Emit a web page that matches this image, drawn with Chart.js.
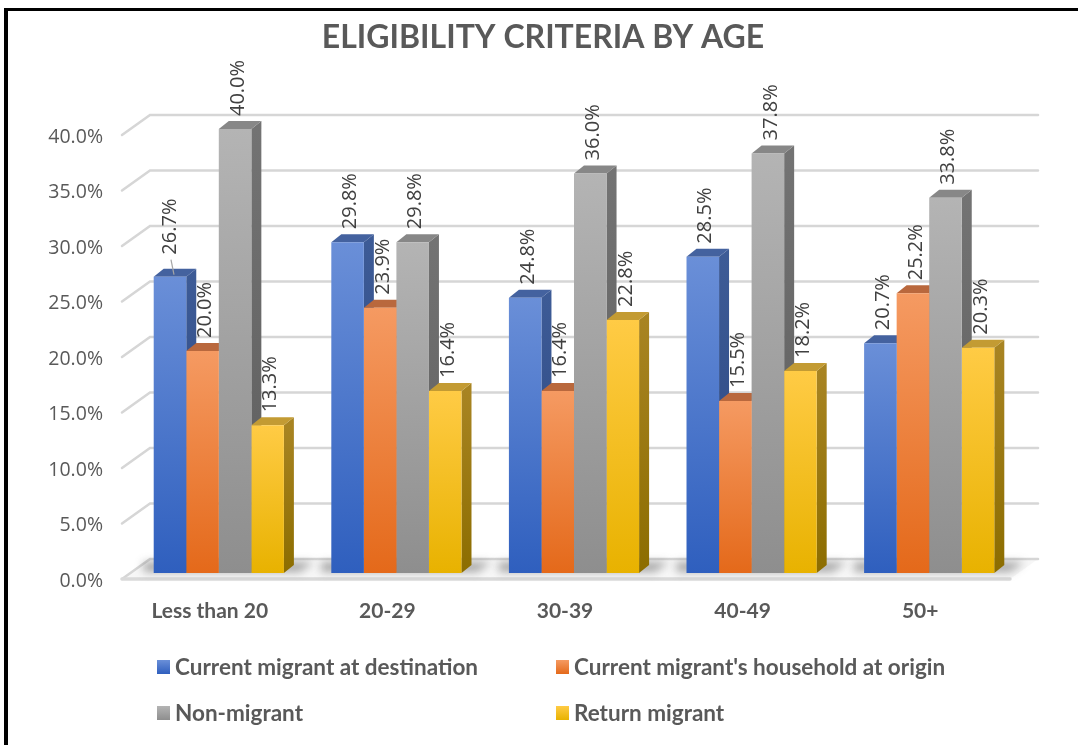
<!DOCTYPE html>
<html>
<head>
<meta charset="utf-8">
<script src="https://cdn.jsdelivr.net/npm/chart.js@4.4.1/dist/chart.umd.min.js"></script>
<style>
  html, body { margin: 0; padding: 0; background: #fff; overflow: hidden; }
  canvas { display: block; }
</style>
</head>
<body>
<canvas id="chart" width="1078" height="745"></canvas>
<script>
// ---- data ----
const chartTitle = 'ELIGIBILITY CRITERIA BY AGE';
const ageGroups = ['Less than 20', '20-29', '30-39', '40-49', '50+'];
const seriesNames = [
  'Current migrant at destination',
  "Current migrant's household at origin",
  'Non-migrant',
  'Return migrant'
];
const currentAtDestination = [26.7, 29.8, 24.8, 28.5, 20.7];
const householdAtOrigin    = [20.0, 23.9, 16.4, 15.5, 25.2];
const nonMigrant           = [40.0, 29.8, 36.0, 37.8, 33.8];
const returnMigrant        = [13.3, 16.4, 22.8, 18.2, 20.3];
const yTickValues = [0, 5, 10, 15, 20, 25, 30, 35, 40];

// ---- styling ----
const palette = [
  { top: '#6a8fd8', bottom: '#2f5fbe', roof: '#44629f', sideTop: '#3d5b96', sideBottom: '#2a4580' },
  { top: '#f59a62', bottom: '#e4691a', roof: '#b9683d', sideTop: '#b45a27', sideBottom: '#9b4a17' },
  { top: '#b4b4b4', bottom: '#8e8e8e', roof: '#878787', sideTop: '#737373', sideBottom: '#5c5c5c' },
  { top: '#ffcb45', bottom: '#e8b200', roof: '#c39b33', sideTop: '#a88422', sideBottom: '#8c6d00' }
];
const DEPTH_X = 10, DEPTH_Y = 8;          // bar extrusion
const WALL_BACK_X = 20, WALL_BACK_Y = 14; // back wall offset from bar plane
const WALL_FRONT_X = 8, WALL_FRONT_Y = 6; // front edge offset from bar plane
const textGrey = '#595959';
const labelFont = '20px "Open Sans"';

const seriesValues = [currentAtDestination, householdAtOrigin, nonMigrant, returnMigrant];

function barGradient(ctx, idx, value) {
  const chart = ctx.chart;
  const ys = chart.scales && chart.scales.y;
  if (!ys || !chart.chartArea) return palette[idx].top;
  const yTop = ys.getPixelForValue(value);
  const yBot = ys.getPixelForValue(0);
  const g = chart.ctx.createLinearGradient(0, yTop, 0, yBot);
  g.addColorStop(0, palette[idx].top);
  g.addColorStop(1, palette[idx].bottom);
  return g;
}

const datasets = seriesValues.map((vals, i) => ({
  label: seriesNames[i],
  data: vals,
  backgroundColor: (c) => barGradient(c, i, c.raw),
  borderWidth: 0,
  categoryPercentage: 0.733,
  barPercentage: 1.0
}));

// floor, walls, gridlines and the 3D sides/roofs of the bars
const scenePlugin = {
  id: 'scene',
  beforeDraw(chart) {
    const { ctx, width, height } = chart;
    ctx.save();
    ctx.fillStyle = '#ffffff';
    ctx.fillRect(0, 0, width, height);
    ctx.fillStyle = '#000000';
    ctx.fillRect(4, 8, 4, height - 8);
    ctx.fillRect(4, 8, width - 4, 3);
    ctx.restore();
  },
  beforeDatasetsDraw(chart) {
    const { ctx, chartArea: a, scales: { y } } = chart;
    const L = a.left, R = a.right;
    ctx.save();
    // floor fill
    const y0 = y.getPixelForValue(0);
    ctx.beginPath();
    ctx.moveTo(L - WALL_FRONT_X, y0 + WALL_FRONT_Y);
    ctx.lineTo(R - WALL_FRONT_X, y0 + WALL_FRONT_Y);
    ctx.lineTo(R + WALL_BACK_X, y0 - WALL_BACK_Y);
    ctx.lineTo(L + WALL_BACK_X, y0 - WALL_BACK_Y);
    ctx.closePath();
    ctx.fillStyle = '#f7f7f7';
    ctx.fill();

    // gridlines on the back wall and the left wall
    ctx.strokeStyle = '#d6d6d6';
    ctx.lineWidth = 2.5;
    ctx.lineCap = 'round';
    yTickValues.forEach(v => {
      const yy = y.getPixelForValue(v);
      ctx.beginPath();
      ctx.moveTo(L - WALL_FRONT_X, yy + WALL_FRONT_Y);
      ctx.lineTo(L + WALL_BACK_X, yy - WALL_BACK_Y);
      ctx.lineTo(R + WALL_BACK_X, yy - WALL_BACK_Y);
      ctx.stroke();
    });
    // front floor edge
    ctx.lineWidth = 3.5;
    ctx.strokeStyle = '#dadada';
    ctx.beginPath();
    ctx.moveTo(L - WALL_FRONT_X, y0 + WALL_FRONT_Y);
    ctx.lineTo(R - WALL_FRONT_X, y0 + WALL_FRONT_Y);
    ctx.stroke();

    // soft shadows under each group of bars
    const metas = chart.data.datasets.map((_, i) => chart.getDatasetMeta(i));
    ageGroups.forEach((_, gi) => {
      const first = metas[0].data[gi], last = metas[metas.length - 1].data[gi];
      const gl = first.x - first.width / 2, gr = last.x + last.width / 2;
      ctx.save();
      ctx.filter = 'blur(4px)';
      ctx.fillStyle = 'rgba(70,70,70,0.45)';
      ctx.beginPath();
      ctx.moveTo(gl - 10, y0 - 11);
      ctx.lineTo(gr + 30, y0 - 11);
      ctx.lineTo(gr + 16, y0 - 1);
      ctx.lineTo(gl - 10, y0 - 1);
      ctx.closePath();
      ctx.fill();
      ctx.restore();
    });

    // bar sides and roofs, left to right
    ageGroups.forEach((_, gi) => {
      metas.forEach((meta, di) => {
        const bar = meta.data[gi];
        const left = bar.x - bar.width / 2, right = bar.x + bar.width / 2;
        const top = bar.y, base = bar.base;
        const p = palette[di];
        // right side face
        const sg = ctx.createLinearGradient(0, top, 0, base);
        sg.addColorStop(0, p.sideTop);
        sg.addColorStop(1, p.sideBottom);
        ctx.fillStyle = sg;
        ctx.beginPath();
        ctx.moveTo(right, top);
        ctx.lineTo(right + DEPTH_X, top - DEPTH_Y);
        ctx.lineTo(right + DEPTH_X, base - DEPTH_Y);
        ctx.lineTo(right, base);
        ctx.closePath();
        ctx.fill();
        // roof
        ctx.fillStyle = p.roof;
        ctx.beginPath();
        ctx.moveTo(left, top);
        ctx.lineTo(left + DEPTH_X, top - DEPTH_Y);
        ctx.lineTo(right + DEPTH_X, top - DEPTH_Y);
        ctx.lineTo(right, top);
        ctx.closePath();
        ctx.fill();
      });
    });
    ctx.restore();
  },
  afterDatasetsDraw(chart) {
    const { ctx } = chart;
    // value labels, rotated, above each bar
    const nudges = { '0-0': { dx: -3, dy: -9 } };
    ctx.save();
    ctx.font = labelFont;
    ctx.fillStyle = '#404040';
    ctx.textAlign = 'left';
    ctx.textBaseline = 'middle';
    chart.data.datasets.forEach((ds, di) => {
      const meta = chart.getDatasetMeta(di);
      meta.data.forEach((bar, i) => {
        const n = nudges[di + '-' + i] || { dx: 0, dy: 0 };
        const lx = bar.x + 3 + n.dx;
        const ly = bar.y - 13 + n.dy;
        if (n.dy) {
          ctx.save();
          ctx.strokeStyle = '#a6a6a6';
          ctx.lineWidth = 1.2;
          ctx.beginPath();
          ctx.moveTo(lx + 1, ly + 5);
          ctx.lineTo(lx + 4, bar.y - 2);
          ctx.stroke();
          ctx.restore();
        }
        ctx.save();
        ctx.translate(lx, ly);
        ctx.rotate(-Math.PI / 2);
        ctx.fillText(ds.data[i].toFixed(1) + '%', 0, 0);
        ctx.restore();
      });
    });
    ctx.restore();
  },
  afterDraw(chart) {
    const { ctx } = chart;
    ctx.save();
    // title
    ctx.font = 'bold 32px Lato';
    ctx.fillStyle = textGrey;
    ctx.textAlign = 'center';
    ctx.textBaseline = 'middle';
    ctx.fillText(chartTitle, 543, 38);
    // legend: two columns, two rows
    const cols = [157, 556], rows = [667, 713];
    ctx.font = 'bold 22.5px Lato';
    ctx.textAlign = 'left';
    chart.data.datasets.forEach((ds, i) => {
      const x = cols[i % 2], yy = rows[Math.floor(i / 2)];
      const g = ctx.createLinearGradient(0, yy - 7, 0, yy + 7);
      g.addColorStop(0, palette[i].top);
      g.addColorStop(1, palette[i].bottom);
      ctx.fillStyle = g;
      ctx.fillRect(x, yy - 7, 13, 14);
      ctx.fillStyle = textGrey;
      ctx.fillText(ds.label, x + 18, yy + 1);
    });
    ctx.restore();
  }
};

new Chart(document.getElementById('chart'), {
  type: 'bar',
  data: { labels: ageGroups, datasets },
  options: {
    responsive: false,
    devicePixelRatio: 1,
    animation: false,
    layout: { padding: { top: 129, right: 60, bottom: 0, left: 0 } },
    plugins: {
      legend: { display: false },
      title: { display: false },
      tooltip: { enabled: false }
    },
    scales: {
      x: {
        grid: { display: false, drawTicks: false },
        border: { display: false },
        ticks: {
          font: { family: 'Lato', size: 21, weight: 'bold' },
          color: textGrey,
          padding: 26,
          labelOffset: -9
        },
        afterFit(s) { s.height = 172; }
      },
      y: {
        min: 0,
        max: 40,
        grid: { display: false, drawTicks: false },
        border: { display: false },
        ticks: {
          stepSize: 5,
          font: { family: 'Open Sans', size: 19.5 },
          color: textGrey,
          padding: 27,
          labelOffset: 8,
          callback: (v) => Number(v).toFixed(1) + '%'
        },
        afterFit(s) { s.width = 130; }
      }
    }
  },
  plugins: [scenePlugin]
});
</script>
</body>
</html>
